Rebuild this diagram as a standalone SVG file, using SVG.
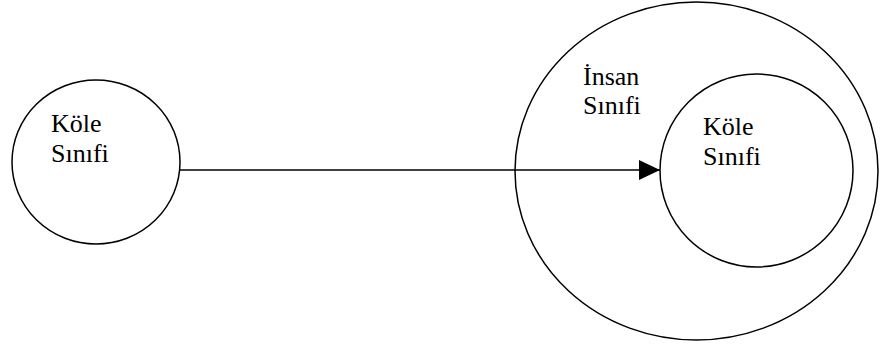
<svg xmlns="http://www.w3.org/2000/svg" width="890" height="347" viewBox="0 0 890 347">
<style>
.shape{fill:none;stroke:#000;stroke-width:1.5}
</style>
<defs>
<marker id="arrow" markerWidth="21" markerHeight="20" refX="21" refY="10" orient="auto" markerUnits="userSpaceOnUse">
<path d="M0,0 L21,10 L0,20 Z" fill="#000"/>
</marker>
</defs>
<rect width="890" height="347" fill="#fff"/>
<g id="insan-sinifi" font-family="Liberation Serif, Times New Roman, serif" font-size="26">
<ellipse class="shape" cx="696.5" cy="171" rx="181.5" ry="169"/>
<text x="583" y="85">İnsan</text>
<text x="583" y="114">Sınıfi</text>
</g>
<g id="kole-sinifi-inner" font-family="Liberation Serif, Times New Roman, serif" font-size="26">
<circle class="shape" cx="756.5" cy="170.5" r="96.5"/>
<text x="703" y="135">Köle</text>
<text x="703" y="165">Sınıfi</text>
</g>
<g id="kole-sinifi-left" font-family="Liberation Serif, Times New Roman, serif" font-size="26">
<ellipse class="shape" cx="96" cy="162" rx="84" ry="82"/>
<text x="51" y="132">Köle</text>
<text x="51" y="162">Sınıfi</text>
</g>
<g id="connectors">
<line class="shape" x1="180" y1="170" x2="660" y2="170" marker-end="url(#arrow)"/>
</g>
</svg>
